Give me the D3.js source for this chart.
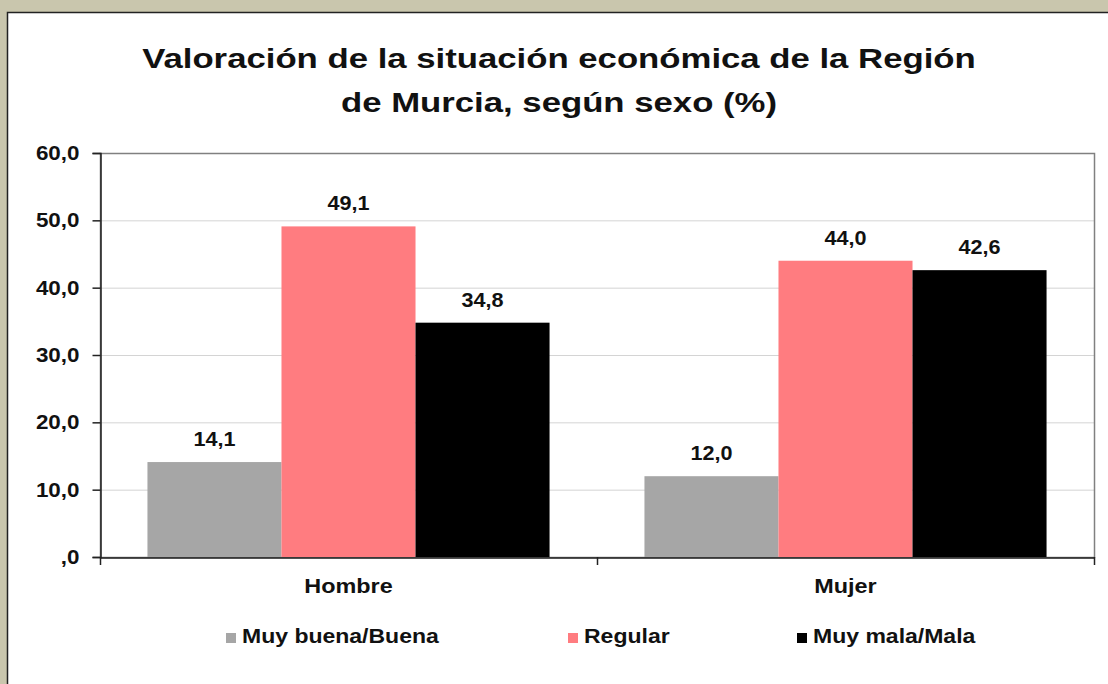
<!DOCTYPE html>
<html>
<head>
<meta charset="utf-8">
<script src="https://cdn.jsdelivr.net/npm/d3@7"></script>
<style>
  body { margin: 0; background: #c9c6ad; }
  svg { display: block; font-family: "Liberation Sans", Arial, sans-serif; }
</style>
</head>
<body>
<div id="chart"></div>
<script>
// Chart data
const categories = ["Hombre", "Mujer"];
const series = ["Muy buena/Buena", "Regular", "Muy mala/Mala"];
const colors = ["#a6a6a6", "#ff7c80", "#000000"];
const valuesBuena = [14.1, 12.0];
const valuesRegular = [49.1, 44.0];
const valuesMala = [34.8, 42.6];
const yTicks = [0, 10, 20, 30, 40, 50, 60];

const width = 1108;
const height = 684;
const margin = {left: 100, right: 14, top: 153, bottom: 127};

// the original text is drawn a bit wider than Arial, stretch it
function stretch(sel, k) {
  sel.each(function() {
    const w = this.getComputedTextLength();
    d3.select(this).attr("textLength", w * k).attr("lengthAdjust", "spacingAndGlyphs");
  });
}

const svg = d3.select("#chart")
  .append("svg")
  .attr("width", width)
  .attr("height", height);

// white panel with dark border
svg.append("rect")
  .attr("x", 7.5).attr("y", 12.5)
  .attr("width", width).attr("height", height)
  .attr("fill", "#fff")
  .attr("stroke", "#222")
  .attr("stroke-width", 1.5);

// Title
const title = svg.append("text")
  .attr("text-anchor", "middle")
  .attr("font-weight", "bold")
  .attr("font-size", 28)
  .attr("fill", "#111");
title.append("tspan").attr("x", 559).attr("y", 68)
  .text("Valoración de la situación económica de la Región");
title.append("tspan").attr("x", 559).attr("y", 112)
  .text("de Murcia, según sexo (%)");
stretch(title.selectAll("tspan"), 1.24);

// Scales
const xScale = d3.scaleBand()
  .domain(categories)
  .range([margin.left, width - margin.right]);

const xSub = d3.scaleBand()
  .domain(series)
  .range([0, xScale.bandwidth()])
  .paddingOuter(0.354);

const yScale = d3.scaleLinear()
  .domain([0, 60])
  .range([height - margin.bottom, margin.top]);

// gridlines
svg.append("g")
  .selectAll("line")
  .data(yTicks.filter(d => d > 0 && d < 60))
  .join("line")
    .attr("x1", margin.left).attr("x2", width - margin.right)
    .attr("y1", d => yScale(d) + 0.5).attr("y2", d => yScale(d) + 0.5)
    .attr("stroke", "#d4d4d4");

// plot frame
svg.append("rect")
  .attr("x", margin.left + 0.5)
  .attr("y", margin.top + 0.5)
  .attr("width", width - margin.right - margin.left)
  .attr("height", height - margin.bottom - margin.top)
  .attr("fill", "none")
  .attr("stroke", "#808080")
  .attr("stroke-width", 1.5);

// Bars
const rows = categories.map((c, i) => ({
  cat: c,
  vals: [valuesBuena[i], valuesRegular[i], valuesMala[i]]
}));

const groups = svg.selectAll(".grp")
  .data(rows)
  .join("g")
    .attr("class", "grp")
    .attr("transform", d => `translate(${xScale(d.cat)},0)`);

groups.selectAll("rect")
  .data(d => d.vals.map((v, j) => ({s: series[j], v: v, c: colors[j]})))
  .join("rect")
    .attr("x", d => xSub(d.s))
    .attr("y", d => yScale(d.v))
    .attr("width", xSub.bandwidth())
    .attr("height", d => yScale(0) - yScale(d.v))
    .attr("fill", d => d.c);

const labels = groups.selectAll(".lbl")
  .data(d => d.vals.map((v, j) => ({s: series[j], v: v})))
  .join("text")
    .attr("class", "lbl")
    .attr("x", d => xSub(d.s) + xSub.bandwidth() / 2)
    .attr("y", d => yScale(d.v) - 16)
    .attr("text-anchor", "middle")
    .attr("font-weight", "bold")
    .attr("font-size", 20)
    .attr("fill", "#111")
    .text(d => d3.format(".1f")(d.v).replace(".", ","));
stretch(labels, 1.08);

// Y axis
const yAxis = svg.append("g")
  .attr("transform", `translate(${margin.left + 0.5},0)`)
  .call(d3.axisLeft(yScale)
    .tickValues(yTicks)
    .tickSize(8)
    .tickPadding(13)
    .tickFormat(d => d === 0 ? ",0" : d3.format(".1f")(d).replace(".", ",")));
yAxis.select(".domain").attr("stroke", "#222").attr("stroke-width", 1.5);
yAxis.selectAll(".tick line").attr("stroke", "#222").attr("stroke-width", 1.5);
yAxis.selectAll("text")
  .attr("font-size", 20)
  .attr("font-weight", "bold")
  .attr("font-family", "Liberation Sans, Arial, sans-serif")
  .attr("fill", "#111");
stretch(yAxis.selectAll("text"), 1.12);

// X axis
const xAxis = svg.append("g")
  .attr("transform", `translate(0,${height - margin.bottom + 0.5})`)
  .call(d3.axisBottom(xScale).tickSize(0).tickPadding(21));
xAxis.select(".domain").attr("stroke", "#222").attr("stroke-width", 1.5);
xAxis.selectAll("text")
  .attr("font-size", 20)
  .attr("font-weight", "bold")
  .attr("font-family", "Liberation Sans, Arial, sans-serif")
  .attr("fill", "#111");
stretch(xAxis.selectAll("text"), 1.17);

// category separator ticks
svg.append("g")
  .selectAll("line")
  .data([margin.left, xScale("Mujer"), width - margin.right])
  .join("line")
    .attr("x1", d => d + 0.5).attr("x2", d => d + 0.5)
    .attr("y1", height - margin.bottom).attr("y2", height - margin.bottom + 8)
    .attr("stroke", "#222").attr("stroke-width", 1.5);

// Legend
const legendX = [226, 568, 797];
const legend = svg.append("g")
  .selectAll("g")
  .data(series)
  .join("g")
    .attr("transform", (d, i) => `translate(${legendX[i]},643)`);
legend.append("rect")
  .attr("x", 0).attr("y", -10)
  .attr("width", 10).attr("height", 10)
  .attr("fill", (d, i) => colors[i]);
const legendText = legend.append("text")
  .attr("x", 16).attr("y", 0)
  .attr("font-size", 20)
  .attr("font-weight", "bold")
  .attr("fill", "#111")
  .text(d => d);
stretch(legendText, 1.15);
</script>
</body>
</html>
